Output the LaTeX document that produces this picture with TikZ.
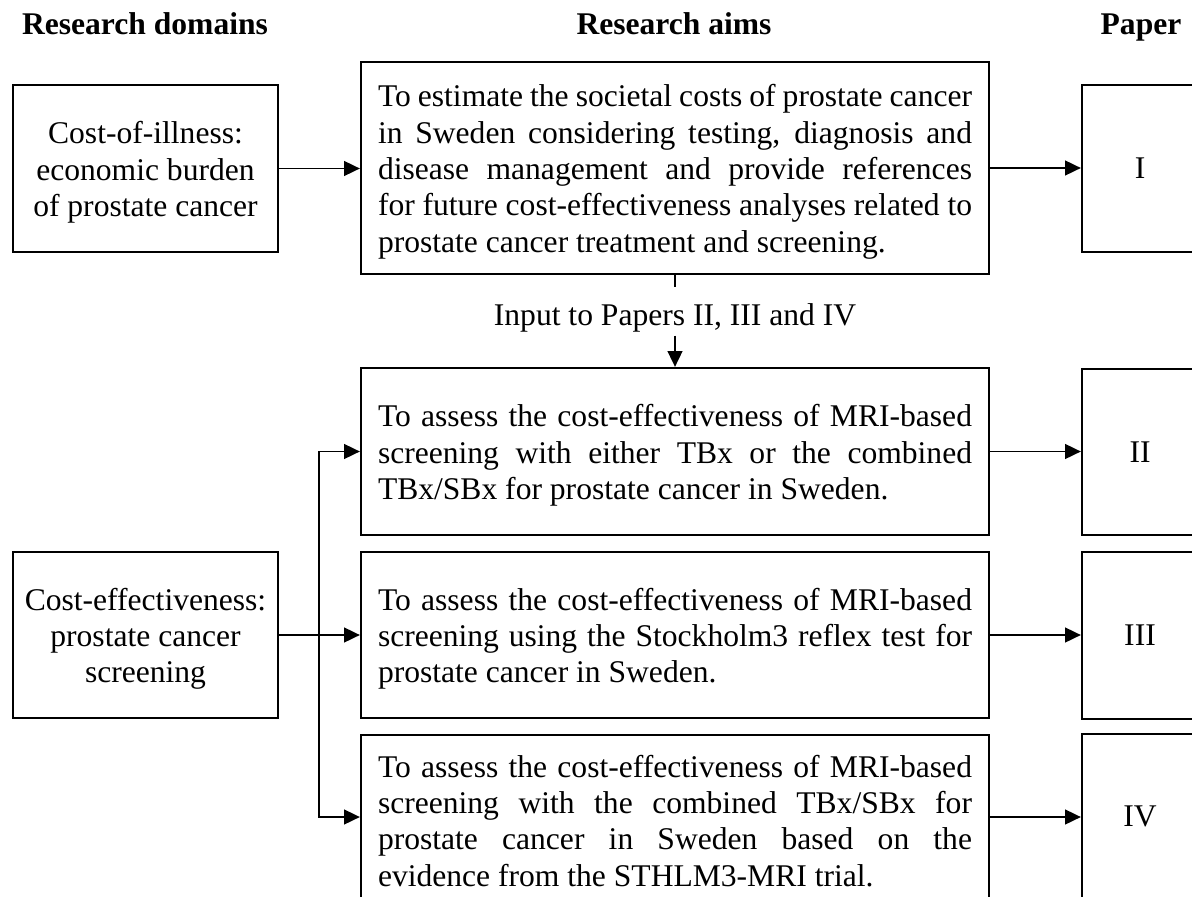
\documentclass[tikz,border=0pt]{standalone}
\usepackage{fontspec}
\setmainfont{Liberation Serif}
\usetikzlibrary{arrows.meta}
\newcommand\firstline{\rule{0pt}{11.4pt}}
\begin{document}
\hyphenpenalty=10000
\exhyphenpenalty=10000
\tolerance=10000
\begin{tikzpicture}[x=0.38pt,y=-0.38pt,
  every node/.style={font=\fontsize{12}{13.8}\selectfont},
  headbox/.style={font=\fontsize{12}{13.8}\selectfont\bfseries,anchor=base,inner sep=0pt},
  framebox/.style={draw,line width=0.85pt,rectangle,inner sep=0pt},
  domainbox/.style={framebox,minimum width=100.7pt,align=center},
  aimbox/.style={framebox,inner xsep=6.46pt,text width=225.72pt,align=justify},
  paperbox/.style={framebox,minimum width=44.08pt},
  linkline/.style={line width=0.75pt},
  arrline/.style={line width=0.75pt,-{Triangle[length=6pt,width=5.6pt]}}]
\useasboundingbox (0,0) rectangle (1192,896);
\clip (0,0) rectangle (1192,896);

% column headings
\node[headbox] (h1) at (145,35) {Research domains};
\node[headbox] (h2) at (674,35) {Research aims};
\node[headbox] (h3) at (1141,35) {Paper};

% research domains
\node[domainbox,minimum height=63.46pt] (dA) at (145.5,168.5)
  {\firstline Cost-of-illness:\\economic burden\\of prostate cancer};
\node[domainbox,minimum height=63.08pt] (dB) at (145.5,635)
  {\firstline Cost-effectiveness:\\prostate cancer\\screening};

% research aims
\node[aimbox,minimum height=80.56pt] (a1) at (675,168)
  {\firstline To estimate the societal costs of prostate cancer\linebreak
   in Sweden considering testing, diagnosis and\linebreak
   disease management and provide references\linebreak
   for future cost-effectiveness analyses related to\linebreak
   prostate cancer treatment and screening.};
\node[aimbox,minimum height=63.46pt] (a2) at (675,451.5)
  {\firstline To assess the cost-effectiveness of MRI-based\linebreak
   screening with either TBx or the combined\linebreak
   TBx/SBx for prostate cancer in Sweden.};
\node[aimbox,minimum height=63.08pt] (a3) at (675,635)
  {\firstline To assess the cost-effectiveness of MRI-based\linebreak
   screening using the Stockholm3 reflex test for\linebreak
   prostate cancer in Sweden.};
\node[aimbox,minimum height=62.32pt] (a4) at (675,817)
  {\firstline To assess the cost-effectiveness of MRI-based\linebreak
   screening with the combined TBx/SBx for\linebreak
   prostate cancer in Sweden based on the\linebreak
   evidence from the STHLM3-MRI trial.};

% papers
\node[paperbox,minimum height=63.46pt] (p1) at (1140,168.5) {I};
\node[paperbox,minimum height=63.08pt] (p2) at (1140,452) {II};
\node[paperbox,minimum height=63.46pt] (p3) at (1140,635.5) {III};
\node[paperbox,minimum height=62.7pt] (p4) at (1140,816.5) {IV};

% input label between the first and second aims
\node[inner sep=0pt,minimum height=17.86pt] (inp) at (675,311.5)
  {\rule{0pt}{13pt}Input to Papers II, III and IV};

% connectors
\draw[arrline] (dA.east) -- (dA.east -| a1.west);
\draw[linkline] (a1.south) -- (inp.north);
\draw[arrline] (inp.south) -- (a2.north);

\coordinate (j) at (319,635);
\draw[arrline] (dB.east) -- (dB.east -| a3.west);
\draw[arrline] (dB.east -| j) |- (a2.west);
\draw[arrline] (dB.east -| j) |- (a4.west);

\draw[arrline] (a1.east) -- (a1.east -| p1.west);
\draw[arrline] (a2.east) -- (a2.east -| p2.west);
\draw[arrline] (a3.east) -- (a3.east -| p3.west);
\draw[arrline] (a4.east) -- (a4.east -| p4.west);
\end{tikzpicture}
\end{document}
